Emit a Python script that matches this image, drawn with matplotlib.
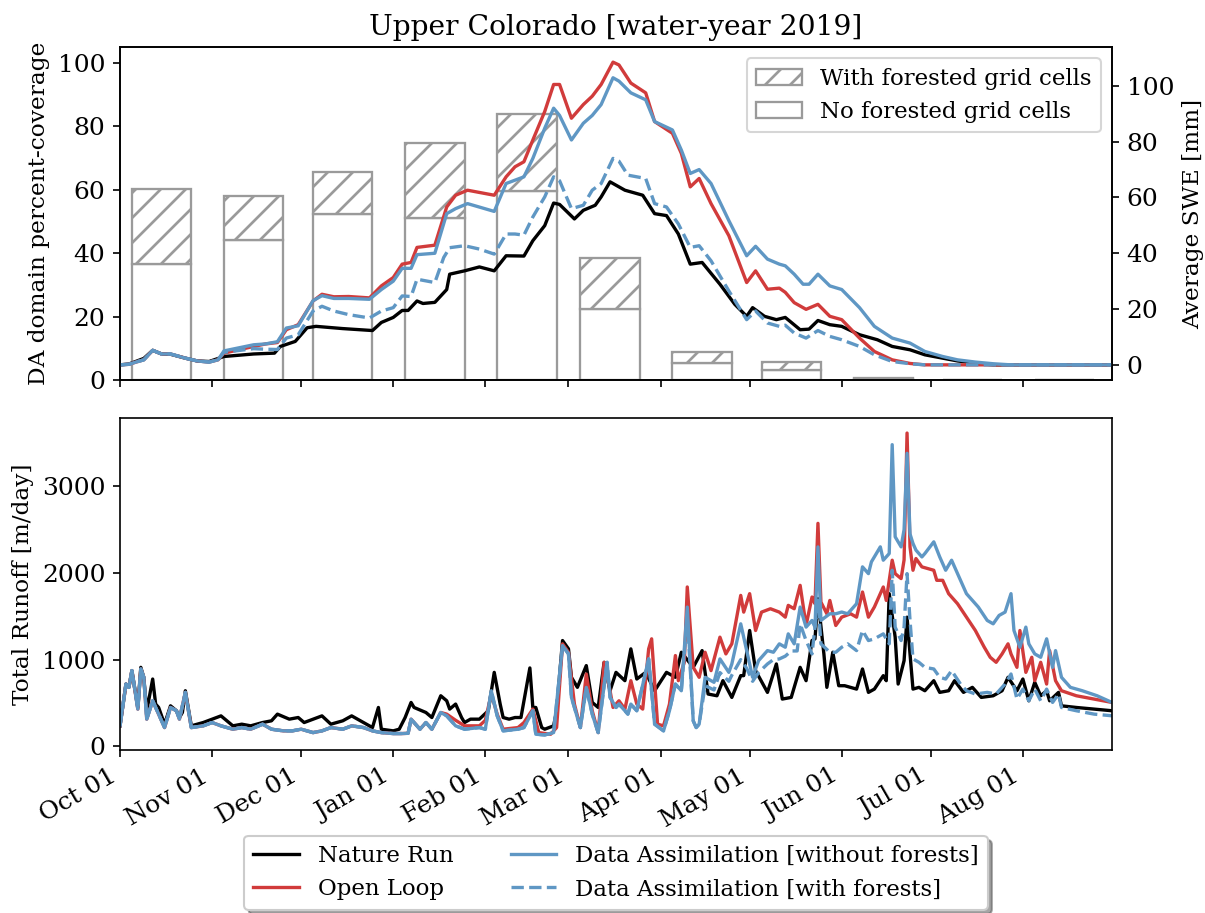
import numpy as np
import pandas as pd
import matplotlib
matplotlib.use('Agg')
import matplotlib.pyplot as plt
import matplotlib.dates as mdates

plt.rcParams['font.family'] = 'DejaVu Serif'
plt.rcParams['font.size'] = 12
plt.rcParams['axes.labelsize'] = 11.2
plt.rcParams['legend.fontsize'] = 11
plt.rcParams['hatch.linewidth'] = 1.3

START = pd.Timestamp('2018-10-01')
END = pd.Timestamp('2019-08-31')

# --- DA domain coverage bars (percent) ---
bar_months = ['2018-10-15', '2018-11-15', '2018-12-15', '2019-01-15', '2019-02-15', '2019-03-15',
              '2019-04-15', '2019-05-15', '2019-06-15', '2019-07-15', '2019-08-15']
pct_total = [60.3, 58.1, 65.6, 74.8, 83.8, 38.5, 8.9, 5.6, 0.5, 0.0, 0.0]
pct_noforest = [36.5, 44.1, 52.4, 51.1, 59.6, 22.4, 5.5, 3.0, 0.2, 0.0, 0.0]

# --- SWE [mm], days since Oct 01 ---
swe_early_days = [0, 3, 6, 8, 11, 14, 17, 22, 26, 30, 33]
swe_early = [0, 0.2, 1.2, 1.8, 5.2, 3.9, 3.9, 2.4, 1.4, 1.0, 1.8]

nr_swe_days = [0, 3, 6, 8, 11, 14, 17, 22, 26, 30, 35, 45, 52, 54, 59, 63, 66, 75, 85, 88,
               92, 95, 97, 100, 102, 106, 108, 110, 111, 116, 121, 126, 130, 136, 139, 143, 146, 148, 153, 156,
               160, 162, 165, 170, 176, 180, 184, 188, 192, 196, 202, 207, 211, 213, 217, 221, 224, 229, 232, 235,
               239, 243, 249, 255, 260, 266, 271, 277, 282, 288, 294, 335]
nr_swe = [0, 0.3, 1.5, 2.3, 5.2, 3.9, 3.8, 2.4, 1.4, 1.2, 3, 3.9, 4.2, 6.6, 8.4, 13.3, 13.8, 13, 12.3, 15.2,
          17, 19.5, 19.5, 22.9, 22, 22.4, 24.7, 27, 32.5, 33.7, 35.1, 33.7, 39.1, 39, 44.5, 49.9, 58, 57.5, 52.3, 55.4,
          57.2, 60.2, 65.6, 62.6, 60.8, 54.2, 53.5, 46.9, 36.1, 36.7, 28.9, 21.7, 17.4, 20.5, 17.4, 16.2, 17, 12.6, 12.8, 15.9,
          14.4, 13.8, 10.8, 9, 6.6, 5.4, 3.6, 2.4, 1.4, 0.6, 0, 0]

ol_swe_days = [35, 45, 49, 53, 56, 60, 65, 68, 72, 77, 84, 88, 92, 95, 98, 100, 106, 110, 113, 117,
               126, 130, 133, 136, 139, 143, 146, 148, 152, 156, 159, 162, 166, 168, 172, 177, 180, 186, 189, 192,
               195, 199, 205, 211, 214, 218, 222, 224, 227, 231, 235, 239, 243, 249, 254, 260, 266, 271, 335]
ol_swe = [4.2, 6.6, 7.5, 8, 12.6, 14.4, 22.9, 25.3, 24.4, 24.5, 24, 28.3, 31.3, 36.1, 36.7, 42.1, 42.9, 56.6, 60.8, 62.6,
          60.8, 67.4, 71, 72.8, 80.6, 90.8, 100.5, 100.5, 88.4, 93.3, 96.3, 100.5, 108.5, 107.5, 101, 97.5, 87.2, 83, 75.8, 63.8,
          66.8, 57.8, 46.3, 29.5, 33.7, 27.1, 27.5, 26, 22.3, 19.9, 21.7, 17.4, 16.2, 9.6, 4.8, 1.8, 0.5, 0, 0]

da_swe_days = [35, 45, 49, 53, 56, 60, 65, 68, 72, 77, 84, 88, 92, 95, 98, 100, 106, 110, 113, 117,
               126, 130, 136, 139, 143, 146, 148, 152, 156, 159, 162, 166, 168, 172, 177, 180, 186, 189, 192, 195,
               199, 205, 211, 214, 218, 222, 224, 227, 230, 232, 235, 239, 243, 249, 254, 260, 266, 271, 277, 282,
               288, 294, 300, 335]
da_swe = [5, 7.2, 7.5, 8.3, 13.2, 14, 23, 24.8, 23.8, 23.8, 23.5, 27, 30, 34.6, 34.6, 39.5, 40, 54.2, 56, 57.8,
          55, 65, 67.4, 74, 84.8, 92, 89.4, 80.6, 86.6, 89.4, 93.3, 102.9, 101.7, 97.5, 95, 87.2, 84.2, 77, 68.6, 70,
          65, 51.7, 39.1, 42.5, 37.9, 36.1, 35.5, 32.5, 28.9, 28.9, 32.5, 28.3, 27, 20.5, 13.8, 9.6, 7.8, 4.8, 3, 1.8,
          1, 0.4, 0, 0]

daf_swe_days = [35, 45, 49, 53, 56, 60, 65, 68, 72, 77, 84, 88, 92, 95, 98, 100, 106, 109, 111, 116,
                121, 126, 130, 133, 136, 139, 143, 146, 148, 152, 156, 159, 162, 166, 168, 171, 177, 180, 184, 188,
                192, 195, 199, 205, 211, 214, 218, 222, 224, 227, 231, 235, 239, 243, 249, 254, 260, 266, 271, 335]
daf_swe = [4.5, 5.8, 5.6, 5.5, 9.6, 10.8, 19.3, 21, 19.3, 18, 16.8, 19.3, 20.5, 24.7, 24.5, 30.7, 29.5, 38.5, 42, 42.7,
           41.5, 39.7, 46.9, 46.9, 46.5, 53, 60.2, 67.4, 66, 56, 57.2, 62.6, 65, 74, 73, 68, 66.8, 57.8, 56.6, 50.5,
           42.1, 42.7, 37.3, 26.5, 16.2, 19.3, 15, 13.8, 14.2, 11.4, 9.6, 12.3, 10.2, 9, 6.6, 3.6, 1.2, 0.4, 0, 0]

# --- Total runoff [m/day], days since Oct 01 ---
ro_early_days = [0, 2, 3, 4, 6, 7, 8, 9, 11, 13, 15, 17, 19, 20, 22, 24, 28, 31, 34, 38,
                 41, 44, 48, 51, 55, 58, 61, 65, 68, 71, 75, 78, 82, 85, 88, 92, 95, 97, 98, 101,
                 103, 105, 108]
ro_early = [236, 718, 680, 873, 429, 892, 796, 313, 525, 371, 216, 448, 410, 313, 622, 216, 236, 274, 236, 197,
            216, 197, 255, 197, 178, 178, 197, 158, 178, 216, 197, 236, 216, 178, 158, 147, 147, 150, 313, 197,
            274, 197, 390]

nr_ro_days = [0, 2, 3, 4, 6, 7, 8, 9, 11, 12, 13, 15, 17, 19, 20, 21, 22, 24, 28, 31,
              34, 38, 41, 44, 48, 51, 53, 57, 60, 62, 65, 68, 71, 75, 78, 82, 85, 87, 88, 92,
              94, 96, 98, 99, 103, 105, 108,
              110, 111, 113, 115, 116, 118, 121, 124, 126, 128, 129, 131, 133, 135, 138, 139, 140, 142, 143, 146,
              147, 149, 151, 152, 154, 157, 159, 161, 163, 165, 167, 170, 172, 174, 177, 180, 184, 187, 189, 193,
              196, 198, 201, 203, 206, 209, 210, 212, 214, 218, 221, 223, 226, 229, 231, 233, 234, 235, 237, 238,
              240, 242, 244, 248, 250, 252, 254, 257, 258, 259, 261, 262, 264, 265, 266, 267, 269, 271, 274, 276,
              279, 281, 284, 287, 290, 294, 297, 299, 302, 304, 306, 308, 310, 312, 313, 316, 317, 322, 328, 334]
nr_ro = [236, 718, 680, 873, 448, 911, 796, 410, 776, 487, 448, 255, 467, 410, 332, 390, 641, 236, 274, 313,
         351, 236, 255, 236, 274, 294, 371, 313, 332, 274, 313, 351, 255, 294, 351, 274, 216, 448, 197, 178,
         197, 332, 506, 448, 390, 332, 583,
         525, 429, 487, 332, 274, 313, 313, 410, 853, 487, 332, 313, 332, 332, 904, 448, 448, 216, 197, 236,
         410, 1220, 1124, 796, 680, 931, 506, 448, 969, 641, 853, 757, 1124, 776, 853, 641, 853, 796, 1085, 911,
         1104, 603, 583, 757, 564, 815, 815, 1336, 873, 622, 950, 545, 564, 911, 757, 1220, 1240, 1703, 1066, 680,
         1085, 699, 699, 660, 892, 622, 660, 815, 757, 1761, 1259, 718, 988, 1490, 1066, 660, 680, 641, 757, 622,
         641, 757, 622, 680, 564, 583, 641, 796, 641, 776, 525, 738, 583, 641, 525, 622, 467, 448, 429, 410]

ol_ro_days = [110, 113, 116, 121, 123, 125, 127, 129, 134, 136, 139, 141, 145, 147, 149, 151, 153, 155, 157, 159,
              161, 163, 165, 166, 168, 170, 172, 174, 176, 178, 179, 181, 183, 185, 187, 188, 190, 191, 193, 195,
              197, 199, 202, 204, 206, 209, 210, 212, 214, 216, 219, 222, 224, 225, 227, 229, 231, 233, 234, 235,
              236, 238, 239, 241, 243, 246, 248, 250, 252, 254, 257, 258, 260, 261, 263, 264, 265, 266, 267, 268,
              270, 274, 275, 277, 279, 282, 285, 288, 291, 293, 295, 297, 299, 300, 302, 303, 305, 307, 308, 310,
              312, 313, 315, 317, 322, 328, 334]
ol_ro = [371, 300, 236, 236, 300, 603, 371, 197, 216, 274, 429, 158, 139, 216, 1182, 1085, 487, 216, 834, 410,
         158, 969, 641, 448, 525, 429, 757, 487, 429, 1124, 1240, 255, 236, 487, 1047, 757, 969, 1838, 911, 796,
         1085, 873, 1259, 1066, 1182, 1741, 1548, 1761, 1336, 1548, 1587, 1548, 1490, 1626, 1587, 1857, 1394, 1722, 1645, 2572,
         1664, 1529, 1683, 1394, 1490, 1529, 1490, 1780, 1490, 1607, 1838, 1683, 2147, 1992, 1935, 2150, 3614, 2300, 2031, 2166,
         2070, 2031, 1915, 1915, 1761, 1645, 1490, 1336, 1143, 1027, 969, 1066, 1182, 1066, 911, 1336, 853, 1027, 757, 969,
         718, 1104, 757, 641, 583, 545, 506]

da_ro_days = [110, 113, 116, 121, 123, 125, 127, 129, 134, 136, 139, 140, 143, 146, 149, 151, 152, 155, 157, 159,
              161, 164, 165, 167, 168, 171, 172, 174, 178, 180, 183, 185, 187, 189, 191, 193, 194, 195, 197, 200,
              202, 205, 206, 209, 211, 213, 215, 218, 220, 222, 224, 225, 227, 229, 231, 233, 234, 235, 236, 239,
              241, 243, 245, 248, 250, 252, 253, 256, 257, 259, 260, 261, 263, 264, 265, 266, 267, 268, 270, 271,
              274, 276, 278, 280, 283, 285, 287, 289, 292, 294, 296, 298, 300, 301, 303, 305, 306, 308, 310, 312,
              314, 315, 317, 320, 324, 329, 334]
da_ro = [351, 236, 197, 216, 197, 641, 351, 178, 197, 216, 410, 139, 131, 158, 1162, 1066, 564, 216, 680, 371,
         158, 969, 564, 448, 487, 371, 487, 410, 1008, 255, 178, 410, 718, 641, 1606, 294, 216, 255, 796, 738,
         1008, 853, 950, 1413, 1104, 796, 988, 1104, 1085, 1182, 1143, 1297, 1182, 1606, 1375, 1452, 1375, 2300, 1452, 1529,
         1529, 1549, 1529, 1645, 2070, 1992, 2128, 2301, 2147, 2224, 3480, 2417, 2301, 2500, 3380, 2450, 2340, 2263, 2185, 2224,
         2359, 2185, 2031, 2147, 1915, 1761, 1683, 1606, 1452, 1413, 1510, 1548, 1761, 1336, 1143, 1375, 1182, 1066, 1027, 1240,
         911, 1104, 796, 680, 641, 583, 506]

daf_ro_days = [110, 113, 116, 121, 123, 125, 127, 129, 134, 136, 139, 140, 143, 146, 149, 151, 152, 155, 157, 159,
               161, 164, 165, 167, 168, 171, 172, 174, 178, 180, 183, 185, 187, 189, 191, 193, 194, 195, 197, 200,
               202, 205, 206, 209, 211, 213, 215, 218, 220, 222, 224, 226, 228, 229, 231, 233, 235, 236, 239, 241,
               243, 245, 248, 250, 252, 254, 257, 259, 260, 261, 263, 264, 265, 266, 267, 269, 271, 274, 276, 278,
               280, 283, 285, 288, 292, 295, 298, 300, 302, 304, 306, 308, 310, 312, 314, 316, 317, 322, 328, 334]
daf_ro = [351, 236, 197, 216, 197, 641, 351, 178, 197, 216, 410, 139, 131, 158, 1162, 1066, 564, 216, 680, 371,
          158, 969, 564, 448, 487, 371, 487, 410, 1008, 255, 178, 410, 718, 641, 1500, 294, 216, 255, 700, 650,
          850, 750, 820, 1000, 900, 750, 850, 950, 1000, 1008, 1040, 1100, 1100, 1413, 1220, 1066, 1683, 1182, 1085, 1085,
          1143, 1182, 1104, 1336, 1220, 1240, 1297, 1182, 2031, 1375, 1220, 1375, 1992, 1452, 1008, 969, 911, 892, 796, 776,
          873, 718, 641, 603, 622, 603, 718, 834, 545, 660, 525, 660, 525, 660, 506, 603, 448, 410, 371, 352]

C_NR = 'black'
C_OL = '#d13b3b'
C_DA = '#5f97c4'
C_BAR = '#9a9a9a'


def to_dates(days):
    return START + pd.to_timedelta(np.asarray(days, dtype=float), unit='D')


fig = plt.figure(figsize=(1205 / 150, 913 / 150), dpi=150)
ax1 = fig.add_axes([0.0996, 0.5838, 0.8232, 0.3647])
ax2 = fig.add_axes([0.0996, 0.1785, 0.8232, 0.3637], sharex=ax1)

# top: coverage bars
bdates = pd.to_datetime(bar_months)
hatched = np.array(pct_total) - np.array(pct_noforest)
b_plain = ax1.bar(bdates, pct_noforest, width=20, facecolor='white', edgecolor=C_BAR, lw=1.1)
b_hatch = ax1.bar(bdates, hatched, width=20, bottom=pct_noforest, facecolor='white',
                  edgecolor=C_BAR, lw=1.1, hatch='//')
ax1.set_ylim(0, 105)
ax1.set_ylabel('DA domain percent-coverage')
ax1.set_title('Upper Colorado [water-year 2019]', fontsize=13.5)
ax1.tick_params(labelbottom=False)

# top: SWE on twin axis
axr = ax1.twinx()
axr.plot(to_dates(nr_swe_days), nr_swe, color=C_NR, lw=1.6)
axr.plot(to_dates(swe_early_days + ol_swe_days), swe_early + ol_swe, color=C_OL, lw=1.6)
axr.plot(to_dates(swe_early_days + da_swe_days), swe_early + da_swe, color=C_DA, lw=1.6)
axr.plot(to_dates(swe_early_days + daf_swe_days), swe_early + daf_swe, color=C_DA, lw=1.6, ls='--')
axr.set_ylabel('Average SWE [mm]')
axr.set_yticks([0, 20, 40, 60, 80, 100])
axr.legend([b_hatch, b_plain], ['With forested grid cells', 'No forested grid cells'],
           loc='upper right')

# bottom: runoff
l_nr, = ax2.plot(to_dates(nr_ro_days), nr_ro, color=C_NR, lw=1.6, label='Nature Run')
l_ol, = ax2.plot(to_dates(ro_early_days + ol_ro_days), ro_early + ol_ro, color=C_OL, lw=1.6, label='Open Loop')
l_da, = ax2.plot(to_dates(ro_early_days + da_ro_days), ro_early + da_ro, color=C_DA, lw=1.6,
                 label='Data Assimilation [without forests]')
l_daf, = ax2.plot(to_dates(ro_early_days + daf_ro_days), ro_early + daf_ro, color=C_DA, lw=1.6, ls='--',
                  label='Data Assimilation [with forests]')
ax2.set_ylabel('Total Runoff [m/day]')
ax2.set_yticks([0, 1000, 2000, 3000])

ax2.set_xlim(START, END)
ax2.xaxis.set_major_locator(mdates.MonthLocator())
ax2.xaxis.set_major_formatter(mdates.DateFormatter('%b %d'))
plt.setp(ax2.get_xticklabels(), rotation=30, ha='right')

ax2.legend(handles=[l_nr, l_ol, l_da, l_daf], loc='upper center', bbox_to_anchor=(0.5, -0.224),
           ncol=2, shadow=True, columnspacing=2.5)

fig.savefig('out.png', dpi=150)
